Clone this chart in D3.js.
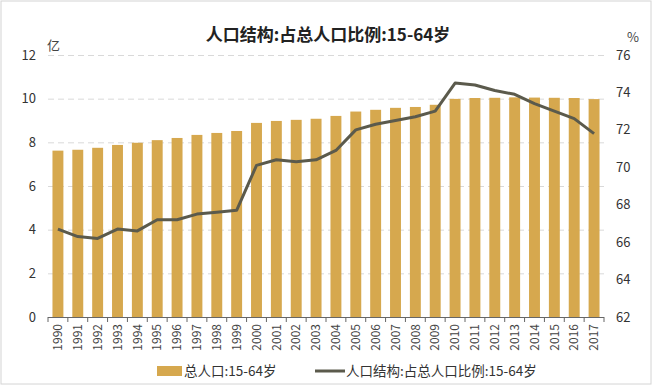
<!DOCTYPE html>
<html>
<head>
<meta charset="utf-8">
<script src="https://cdn.jsdelivr.net/npm/d3@7"></script>
<style>
  body { margin: 0; background: #fff; }
  svg { display: block; font-family: "Noto Sans CJK SC", "Noto Sans", sans-serif; }
</style>
</head>
<body>
<svg id="chart" width="654" height="386"></svg>
<script>
// 年份 / 15-64岁人口(亿) / 占总人口比例(%)
const years = d3.range(1990, 2018).map(String);
const popValues = [7.62, 7.66, 7.75, 7.88, 7.98, 8.10, 8.20, 8.34, 8.43, 8.52,
                   8.89, 8.98, 9.03, 9.08, 9.21, 9.41, 9.49, 9.58, 9.62, 9.72,
                   9.99, 10.03, 10.04, 10.06, 10.05, 10.04, 10.03, 9.98];
const ratioValues = [66.7, 66.3, 66.2, 66.7, 66.6, 67.2, 67.2, 67.5, 67.6, 67.7,
                     70.1, 70.4, 70.3, 70.4, 70.9, 72.0, 72.3, 72.5, 72.7, 73.0,
                     74.5, 74.4, 74.1, 73.9, 73.4, 73.0, 72.6, 71.8];
const leftTicks = [0, 2, 4, 6, 8, 10, 12];
const rightTicks = [62, 64, 66, 68, 70, 72, 74, 76];

const barColor = "#d6a84e";
const lineColor = "#5b5a4c";

const svg = d3.select("#chart");
const plotL = 48, plotR = 604, plotT = 55, plotB = 317;

// frame
svg.append("rect")
    .attr("x", 1).attr("y", 1).attr("width", 650).attr("height", 383)
    .attr("fill", "#fff").attr("stroke", "#d4d4d4");

const x = d3.scaleBand().domain(years).range([plotL, plotR])
    .paddingInner(0.45).paddingOuter(0.225);
const yL = d3.scaleLinear().domain([0, 12]).range([plotB, plotT]);
const yR = d3.scaleLinear().domain([62, 76]).range([plotB, plotT]);

// title
svg.append("text")
    .attr("x", 328).attr("y", 41)
    .attr("text-anchor", "middle")
    .style("font-size", "17px").style("font-weight", "bold").style("fill", "#222")
    .text("人口结构:占总人口比例:15-64岁");

// units
svg.append("text").attr("x", 47).attr("y", 50)
    .style("font-size", "13px").style("fill", "#444").text("亿");
svg.append("text").attr("x", 627).attr("y", 42)
    .style("font-size", "13px").style("fill", "#444").text("%");

// gridlines
svg.append("g").selectAll("line")
    .data(leftTicks.filter(d => d > 0))
    .join("line")
    .attr("x1", plotL).attr("x2", plotR)
    .attr("y1", d => yL(d) + 0.5).attr("y2", d => yL(d) + 0.5)
    .attr("stroke", "#d9d9d9")
    .attr("stroke-dasharray", "6,4");

// left axis labels
svg.append("g").selectAll("text")
    .data(leftTicks)
    .join("text")
    .attr("x", 36).attr("y", d => yL(d))
    .attr("dy", "0.35em")
    .attr("text-anchor", "end")
    .style("font-size", "13px").style("fill", "#333")
    .text(d => d);

// right axis labels
svg.append("g").selectAll("text")
    .data(rightTicks)
    .join("text")
    .attr("x", 616).attr("y", d => yR(d))
    .attr("dy", "0.35em")
    .style("font-size", "13px").style("fill", "#333")
    .text(d => d);

// bars
svg.append("g").selectAll("rect")
    .data(popValues)
    .join("rect")
    .attr("x", (d, i) => x(years[i]))
    .attr("y", d => yL(d))
    .attr("width", x.bandwidth())
    .attr("height", d => yL(0) - yL(d))
    .attr("fill", barColor);

// x axis line + ticks at category boundaries
const step = x.step();
const bounds = years.map(y => x(y) + x.bandwidth() / 2 - step / 2)
    .concat([x(years[years.length - 1]) + x.bandwidth() / 2 + step / 2]);
const xAxis = svg.append("g");
xAxis.append("line")
    .attr("x1", plotL).attr("x2", plotR)
    .attr("y1", plotB + 0.5).attr("y2", plotB + 0.5)
    .attr("stroke", "#666");
xAxis.selectAll("line.tick")
    .data(bounds)
    .join("line")
    .attr("class", "tick")
    .attr("x1", d => d).attr("x2", d => d)
    .attr("y1", plotB).attr("y2", plotB + 5)
    .attr("stroke", "#666");

// x labels (rotated)
svg.append("g").selectAll("text")
    .data(years)
    .join("text")
    .attr("transform", d => `translate(${x(d) + x.bandwidth() / 2},${plotB + 7}) rotate(-90)`)
    .attr("text-anchor", "end")
    .attr("dy", "0.35em")
    .style("font-size", "12px").style("fill", "#444")
    .text(d => d);

// ratio line
const line = d3.line()
    .x((d, i) => x(years[i]) + x.bandwidth() / 2)
    .y(d => yR(d));
svg.append("path")
    .datum(ratioValues)
    .attr("d", line)
    .attr("fill", "none")
    .attr("stroke", lineColor)
    .attr("stroke-width", 3)
    .attr("stroke-linejoin", "round");

// legend
const legend = svg.append("g");
legend.append("rect")
    .attr("x", 157).attr("y", 366).attr("width", 25).attr("height", 10)
    .attr("fill", barColor);
legend.append("text")
    .attr("x", 184).attr("y", 371).attr("dy", "0.35em")
    .style("font-size", "13.5px").style("fill", "#333")
    .text("总人口:15-64岁");
legend.append("line")
    .attr("x1", 315).attr("x2", 345).attr("y1", 371).attr("y2", 371)
    .attr("stroke", lineColor).attr("stroke-width", 3);
legend.append("text")
    .attr("x", 346).attr("y", 371).attr("dy", "0.35em")
    .style("font-size", "13.5px").style("fill", "#333")
    .text("人口结构:占总人口比例:15-64岁");
</script>
</body>
</html>
